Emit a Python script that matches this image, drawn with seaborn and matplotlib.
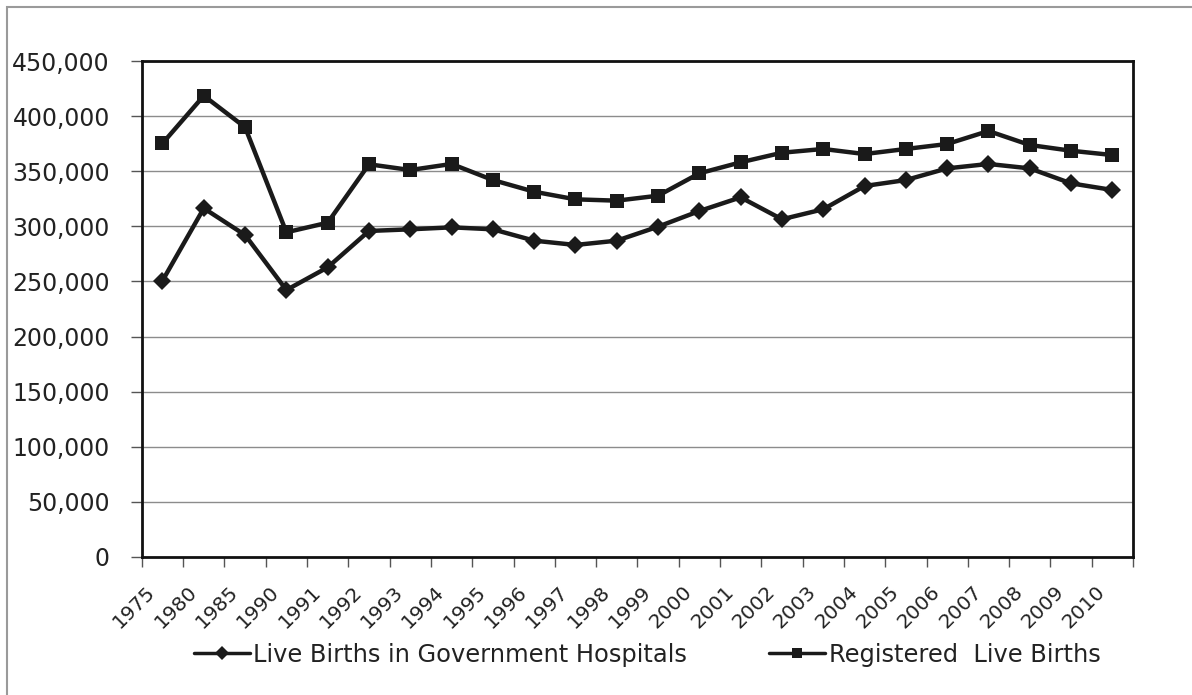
import numpy as np
import pandas as pd
import matplotlib
matplotlib.use("Agg")
import matplotlib.pyplot as plt
import matplotlib.transforms as mtransforms
from matplotlib.ticker import FuncFormatter, FixedLocator
from matplotlib.patches import Rectangle
import seaborn as sns

# Data
years = ["1975", "1980", "1985", "1990", "1991", "1992", "1993", "1994",
         "1995", "1996", "1997", "1998", "1999", "2000", "2001", "2002",
         "2003", "2004", "2005", "2006", "2007", "2008", "2009", "2010"]
gov_hospitals = [250700, 316400, 292100, 242200, 262800, 295800, 297300, 299100,
                 297300, 287000, 283100, 287000, 299700, 313900, 326300, 306400,
                 315500, 336600, 342000, 352600, 356600, 352600, 339000, 333000]
registered = [375300, 418500, 389900, 294600, 303300, 356300, 351100, 356600,
              342000, 331400, 324500, 323300, 327800, 348100, 358100, 366800,
              370200, 365600, 370200, 374700, 386500, 373800, 368600, 364700]
y_ticks = list(range(0, 450001, 50000))

sns.set_theme(style="white")
plt.rcParams['font.family'] = ['DejaVu Sans']

df = pd.DataFrame({"pos": np.arange(len(years)),
                   "gov": gov_hospitals,
                   "reg": registered})

fig = plt.figure(figsize=(11.92, 6.95), dpi=100)
ax = fig.add_axes([0.119, 0.1986, 0.8315, 0.7136])

# grid lines first so they sit under the series
for v in y_ticks[1:]:
    ax.axhline(v, color="#8c8c8c", lw=1.0, zorder=0)

sns.lineplot(data=df, x="pos", y="gov", ax=ax, color="#1a1a1a", lw=3.2,
             marker="D", markersize=9, markeredgewidth=0,
             label="Live Births in Government Hospitals", zorder=3)
sns.lineplot(data=df, x="pos", y="reg", ax=ax, color="#1a1a1a", lw=3.2,
             marker="s", markersize=10, markeredgewidth=0,
             label="Registered  Live Births", zorder=3)

ax.set_xlim(-0.5, len(years) - 0.5)
ax.set_ylim(0, 450000)
ax.set_xlabel("")
ax.set_ylabel("")

ax.set_yticks(y_ticks)
ax.yaxis.set_major_formatter(FuncFormatter(lambda v, p: f"{int(v):,}"))
ax.tick_params(axis="y", which="major", length=8, width=1, color="#555555",
               direction="out", left=True, labelsize=17, pad=15, labelcolor="#222222")

ax.set_xticks(df["pos"])
ax.set_xticklabels(years, rotation=45, ha="right", va="center",
                   rotation_mode="anchor", fontsize=14.5, color="#222222")
ax.tick_params(axis="x", which="major", length=0, pad=23)
shift = mtransforms.ScaledTranslation(-0.10, 0, fig.dpi_scale_trans)
for lbl in ax.get_xticklabels():
    lbl.set_transform(lbl.get_transform() + shift)
ax.xaxis.set_minor_locator(FixedLocator(np.arange(-0.5, len(years), 1.0)))
ax.tick_params(axis="x", which="minor", length=7, width=1, color="#555555",
               direction="out", bottom=True)

for s in ax.spines.values():
    s.set_color("#111111")
    s.set_linewidth(2)

leg = ax.legend(loc="center", bbox_to_anchor=(0.543, 0.058), bbox_transform=fig.transFigure,
                ncol=2, frameon=False, fontsize=17.4, handlelength=2.3, handletextpad=0.15,
                columnspacing=3.4, labelcolor="#222222")
for h in leg.legend_handles:
    h.set_markersize(7)
    h.set_linewidth(2.5)

# thin gray frame around the whole chart (top and left edges visible)
fig.patches.append(Rectangle((7 / 1192, -0.05), 1.2, 1 - 7 / 695 + 0.05,
                             transform=fig.transFigure, fill=False,
                             edgecolor="#9a9a9a", lw=1.5))

fig.savefig("out.png", dpi=100)
